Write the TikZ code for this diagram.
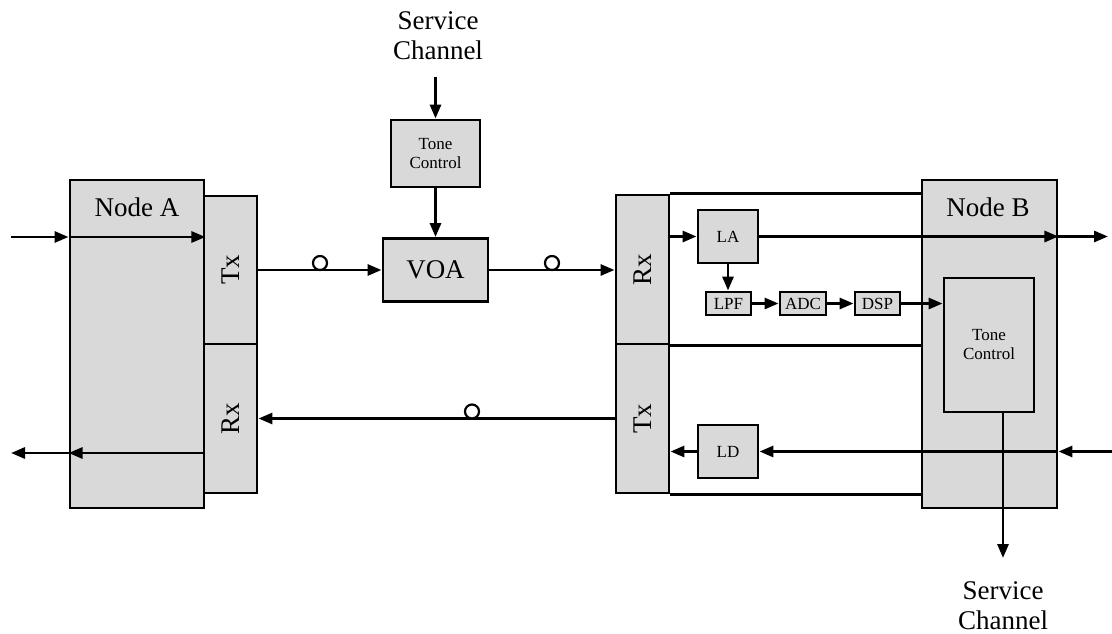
\documentclass[tikz,border=0pt]{standalone}
\usepackage{fontspec}
\setmainfont{Liberation Serif}
\usetikzlibrary{arrows.meta}
\begin{document}
\begin{tikzpicture}[x=1pt,y=-1pt,
  box/.style={draw, fill=black!15, line width=2.9pt, inner sep=0pt},
  big/.style={font=\fontsize{27}{30}\selectfont, align=center, inner sep=0pt},
  small/.style={font=\fontsize{17}{19}\selectfont, align=center, inner sep=0pt},
  wire/.style={line width=2.9pt},
  arr/.style={wire, -{Triangle[length=14pt,width=11pt]}},
  ring/.style={circle, draw, fill=white, line width=2.2pt, minimum size=14pt, inner sep=0pt}]
\useasboundingbox (0,0) rectangle (1112,634);

% ---------------- Node A ----------------
\node[box, minimum width=134pt, minimum height=328pt] (nodeA) at (137,344) {};
\node[big] (labA) at (137,207) {Node A};
\node[box, minimum width=53pt, minimum height=148pt] (txA) at (230.5,270) {};
\node[big, rotate=90] (txAt) at (txA) {Tx};
\node[box, minimum width=53pt, minimum height=149pt] (rxA) at (230.5,418.5) {};
\node[big, rotate=90] (rxAt) at (rxA) {Rx};

\coordinate (inA) at (11,237);
\draw[arr] (inA) -- (inA -| nodeA.west);
\draw[arr] (inA -| nodeA.west) -- (inA -| nodeA.east);
\coordinate (outA) at (11,453);
\draw[arr] (outA -| nodeA.east) -- (outA -| nodeA.west);
\draw[arr] (outA -| nodeA.west) -- (outA);

% ---------------- Attenuator path ----------------
\node[big] (scAt) at (438,36) {Service\\Channel};
\coordinate (scA) at (435.5,77);
\node[box, small, minimum width=89pt, minimum height=67pt] (toneA) at (435.5,153.5) {Tone\\Control};
\node[box, big, minimum width=105pt, minimum height=63pt] (voa) at (435.5,270) {VOA};
\draw[arr] (scA) -- (toneA.north);
\draw[arr] (toneA.south) -- (voa.north);

% ---------------- Node B ----------------
\node[box, minimum width=135pt, minimum height=328pt] (nodeB) at (989.5,344) {};
\node[big] (labB) at (988,207) {Node B};
\node[box, small, minimum width=90pt, minimum height=134pt] (toneB) at (989,345) {Tone\\Control};

\node[box, minimum width=53pt, minimum height=149pt] (rxB) at (642.5,269.5) {};
\node[big, rotate=90] (rxBt) at (rxB) {Rx};
\node[box, minimum width=53pt, minimum height=149pt] (txB) at (642.5,418.5) {};
\node[big, rotate=90] (txBt) at (txB) {Tx};

% receiver frame
\draw[wire] (rxB.north east) -- (rxB.north east -| nodeB.west);
\draw[wire] (rxB.south east) -- (rxB.south east -| nodeB.west);
\draw[wire] (txB.south east) -- (txB.south east -| nodeB.west);

\node[box, small, minimum width=60pt, minimum height=53pt] (la) at (728,236.5) {LA};
\node[box, small, minimum width=45pt, minimum height=23pt] (lpf) at (728.5,303.5) {LPF};
\node[box, small, minimum width=46pt, minimum height=23pt] (adc) at (803,303.5) {ADC};
\node[box, small, minimum width=45pt, minimum height=23pt] (dsp) at (877.5,303.5) {DSP};
\node[box, small, minimum width=60pt, minimum height=53pt] (ld) at (728,451.5) {LD};

% ---------------- Links ----------------
\draw[arr] (txA.east) -- (voa.west);
\draw[arr] (voa.east) -- (voa.east -| rxB.west);
\draw[arr] (txB.west) -- (rxA.east);

\draw[arr] (la.west -| rxB.east) -- (la.west);
\draw[arr] (la.south) -- (la.south |- lpf.north);
\draw[arr] (lpf.east) -- (adc.west);
\draw[arr] (adc.east) -- (dsp.west);
\draw[arr] (dsp.east) -- (dsp.east -| toneB.west);

\coordinate (outB) at (1108,236.5);
\draw[arr] (la.east) -- (la.east -| nodeB.east);
\draw[arr] (la.east -| nodeB.east) -- (outB);

\coordinate (inB) at (1112,451.5);
\draw[arr] (inB) -- (inB -| nodeB.east);
\draw[arr] (inB -| nodeB.east) -- (ld.east);
\draw[arr] (ld.west) -- (ld.west -| txB.east);

\coordinate (scB) at (1003,558);
\draw[arr] (toneB.south -| scB) -- (scB);
\node[big] (scBt) at (1003,606) {Service\\Channel};

% fibre markers
\node[ring] (r1) at (320,263) {};
\node[ring] (r2) at (552,263) {};
\node[ring] (r3) at (472,411.5) {};
\end{tikzpicture}
\end{document}
